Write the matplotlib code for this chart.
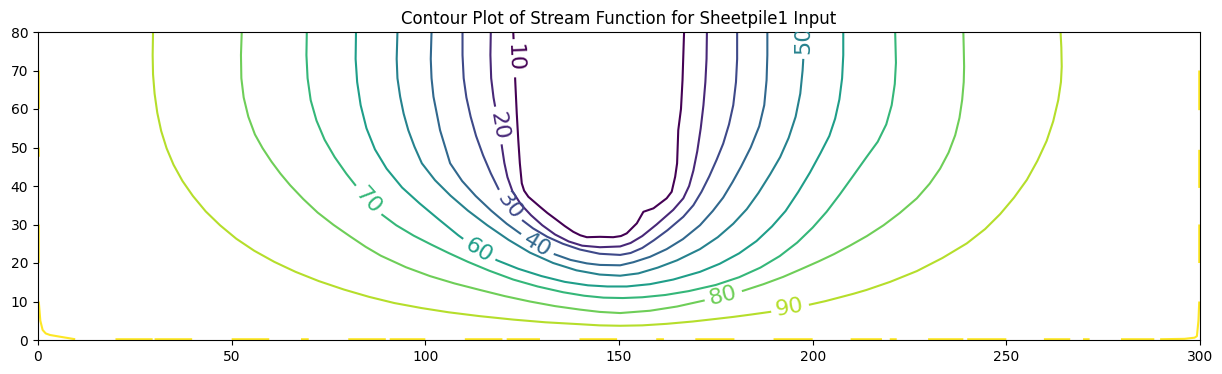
import numpy as np
import matplotlib
matplotlib.use("Agg")
import matplotlib.pyplot as plt
from matplotlib.contour import ContourSet

# ---------------- data ----------------
title = "Contour Plot of Stream Function for Sheetpile1 Input"
levels = [10, 20, 30, 40, 50, 60, 70, 80, 90, 100]
x_ticks = [0, 50, 100, 150, 200, 250, 300]
y_ticks = [0, 10, 20, 30, 40, 50, 60, 70, 80]

c10_x = [122.7, 123.0, 123.2, 123.6, 124.0, 124.4, 124.9, 125.5, 126.6, 129.6, 131.5, 133.9, 136.0,
         138.2, 140.0, 141.7, 145.1, 148.5, 150.5, 152.0, 154.6, 156.3, 158.9, 162.3, 163.6,
         164.5, 165.0, 165.3, 166.0, 166.4, 166.8]
c10_y = [80.0, 73.2, 67.5, 58.9, 51.9, 45.9, 40.7, 38.8, 37.2, 34.6, 33.0, 31.2, 29.6,
         28.1, 27.2, 26.7, 26.8, 26.7, 27.0, 27.7, 30.3, 33.3, 34.2, 36.8, 38.5,
         42.4, 45.9, 54.5, 60.0, 67.5, 80.0]

c20_x = [116.9, 116.8, 117.0, 117.6, 118.4, 119.2, 119.8, 120.4, 121.2, 122.5, 124.7, 127.3,
         130.2, 133.5, 137.0, 140.5, 145.1, 150.3, 153.0, 156.0, 159.7, 164.0, 166.6, 168.1,
         169.2, 170.2, 171.1, 171.8, 172.3, 172.6, 172.7]
c20_y = [80.0, 74.0, 68.0, 63.0, 58.5, 54.5, 50.0, 46.0, 42.3, 38.6, 35.2, 32.4,
         29.8, 27.4, 25.6, 24.5, 24.1, 24.3, 25.2, 27.0, 30.0, 33.8, 36.8, 40.0,
         44.0, 49.0, 55.0, 61.0, 67.0, 73.0, 80.0]

c30_x = [109.6, 109.6, 109.9, 110.6, 111.7, 113.1, 114.9, 116.9, 118.9, 121.4, 124.4, 127.8,
         131.5, 135.5, 139.9, 145.0, 150.3, 153.0, 156.0, 159.0, 162.5, 166.6, 169.2, 171.3,
         173.3, 175.2, 176.9, 178.4, 179.5, 180.2, 180.5, 180.5]
c30_y = [80.0, 74.0, 68.0, 63.0, 58.0, 53.0, 48.0, 43.3, 39.2, 35.1, 31.6, 29.0,
         26.8, 25.0, 23.5, 22.4, 22.1, 22.6, 23.9, 25.9, 28.5, 32.0, 35.0, 38.5,
         42.5, 46.8, 51.0, 56.0, 61.0, 67.0, 73.0, 80.0]

c40_x = [101.6, 101.4, 101.6, 102.1, 103.8, 106.4, 109.5, 113.0, 117.0, 121.0, 125.0, 128.8,
         133.0, 137.5, 141.7, 145.1, 150.3, 153.7, 158.0, 162.3, 166.5, 170.9, 174.2, 176.9,
         179.3, 181.5, 184.0, 186.2, 187.5, 188.1, 188.3, 188.3]
c40_y = [80.0, 73.0, 68.0, 63.2, 54.5, 45.9, 41.3, 37.4, 33.6, 30.2, 27.3, 24.7,
         22.4, 20.8, 19.9, 19.5, 19.4, 20.2, 21.6, 23.6, 26.2, 29.8, 33.5, 37.0,
         41.0, 45.0, 50.0, 55.5, 61.0, 67.5, 74.0, 80.0]

c50_x = [92.8, 92.6, 92.8, 93.5, 94.4, 95.6, 97.2, 99.1, 102.5, 106.5, 111.0, 116.0, 121.5,
         127.0, 133.0, 139.0, 145.0, 150.3, 155.0, 160.0, 165.0, 170.9, 175.5, 179.5, 183.0,
         186.0, 189.0, 191.6, 193.8, 195.6, 196.8, 197.4, 197.7, 197.7]
c50_y = [80.0, 73.0, 68.0, 63.2, 58.8, 54.5, 50.2, 45.9, 41.5, 37.5, 33.6, 29.8, 26.0,
         22.7, 20.0, 18.1, 17.0, 16.7, 17.3, 18.8, 20.7, 23.6, 26.7, 30.2, 34.0,
         38.2, 43.0, 47.5, 52.5, 58.0, 64.0, 70.0, 75.0, 80.0]

c60_x = [82.1, 82.0, 82.4, 83.3, 84.8, 87.0, 90.0, 94.0, 98.5, 103.5, 108.5, 113.7, 118.5,
         124.0, 130.0, 136.0, 142.0, 147.0, 152.0, 158.0, 164.0, 170.9, 176.0, 181.0, 185.5,
         189.5, 193.0, 196.3, 199.3, 202.0, 204.3, 205.8, 206.9, 207.6, 207.9, 207.9]
c60_y = [80.0, 73.0, 67.0, 61.0, 55.0, 49.5, 44.5, 39.6, 35.5, 31.3, 27.2, 23.4, 20.7,
         18.5, 16.6, 15.1, 14.2, 13.9, 13.9, 14.5, 15.7, 17.7, 19.8, 22.5, 25.7,
         29.5, 33.5, 38.5, 43.5, 48.5, 53.0, 57.5, 62.5, 68.0, 74.0, 80.0]

c70_x = [69.4, 69.3, 69.6, 70.4, 71.9, 74.0, 76.6, 79.6, 82.5, 85.3, 88.5, 92.5, 97.0,
         101.5, 106.0, 111.0, 116.5, 122.7, 129.0, 135.6, 141.0, 146.0, 151.0, 156.0, 162.0,
         168.0, 175.0, 181.0, 186.5, 191.5, 196.0, 200.0, 203.6, 207.0, 210.5, 213.9, 216.8,
         219.0, 220.4, 221.2, 221.5, 221.4, 221.3]
c70_y = [80.0, 74.0, 68.0, 62.3, 57.0, 52.0, 47.5, 43.2, 39.5, 36.2, 32.8, 29.8, 27.1,
         24.8, 22.6, 20.3, 18.0, 15.7, 13.9, 12.4, 11.5, 11.0, 10.9, 11.1, 11.7,
         12.7, 14.3, 16.3, 18.8, 21.8, 25.3, 29.2, 33.3, 37.8, 42.7, 47.5, 51.5,
         56.0, 61.0, 66.5, 72.0, 76.0, 80.0]

c80_x = [52.6, 52.4, 52.5, 53.1, 54.3, 56.0, 58.0, 60.3, 62.6, 65.1, 68.5, 72.2, 76.3,
         80.6, 84.6, 88.5, 95.0, 101.2, 107.5, 114.1, 120.5, 127.0, 133.5, 139.9, 145.0,
         150.3, 158.0, 165.0, 171.7, 176.9, 182.1, 187.3, 192.4, 197.0, 201.5, 205.5, 209.6,
         214.0, 218.3, 222.5, 226.9, 230.2, 232.9, 235.1, 236.8, 237.9, 238.6, 239.0, 239.1,
         239.0, 238.9]
c80_y = [80.0, 74.0, 68.0, 63.0, 58.0, 53.4, 49.8, 46.3, 43.2, 40.2, 36.6, 33.1, 29.9,
         26.9, 24.2, 21.9, 18.9, 16.6, 14.7, 13.0, 11.4, 10.0, 8.8, 7.9, 7.3,
         7.0, 7.6, 8.7, 10.2, 11.5, 12.8, 14.5, 16.4, 18.4, 20.4, 22.3, 24.5,
         27.0, 29.8, 33.0, 36.8, 40.6, 44.5, 48.7, 53.2, 57.7, 62.4, 67.0, 71.0,
         76.0, 80.0]

c90_x = [29.7, 29.6, 29.7, 30.1, 30.8, 31.8, 33.2, 35.0, 37.3, 40.0, 43.3, 47.0, 51.2,
         55.8, 61.0, 66.5, 72.5, 79.0, 85.5, 92.0, 99.0, 106.0, 114.0, 122.7, 131.0,
         139.9, 145.0, 150.3, 156.0, 162.3, 169.0, 175.2, 179.5, 184.0, 189.0, 194.1, 199.3,
         203.3, 207.1, 210.5, 213.9, 220.0, 226.9, 233.5, 239.8, 244.5, 248.4, 252.0, 255.3,
         258.0, 260.4, 262.1, 263.4, 264.1, 264.3, 264.2, 264.0]
c90_y = [80.0, 74.0, 69.0, 64.0, 59.0, 54.3, 49.8, 45.5, 41.3, 37.4, 33.4, 29.8, 26.3,
         23.2, 20.3, 17.7, 15.3, 13.1, 11.2, 9.6, 8.3, 7.2, 6.2, 5.3, 4.6,
         4.1, 3.8, 3.7, 3.8, 4.2, 4.8, 5.5, 6.0, 6.6, 7.3, 8.4, 9.2,
         10.1, 11.1, 12.0, 13.0, 15.1, 17.9, 21.3, 25.1, 28.8, 32.7, 37.0, 41.6,
         46.5, 51.7, 56.8, 62.3, 67.0, 71.0, 76.0, 80.0]

# level-100 pieces hugging the boundary
c100_left_corner_x = [9.6, 6.0, 3.1, 2.0, 1.2, 0.6, 0.2]
c100_left_corner_y = [0.2, 0.8, 1.3, 1.7, 2.6, 5.0, 10.0]
c100_right_corner_x = [289.7, 296.0, 298.6, 299.2, 299.6, 299.8]
c100_right_corner_y = [0.2, 0.3, 0.6, 1.0, 5.0, 10.0]
c100_left_spans = [(20.0, 30.0), (47.6, 50.0), (60.0, 70.0)]     # along the left edge
c100_right_spans = [(20.0, 30.0), (39.5, 49.4), (59.7, 70.0)]    # along the right edge
c100_bottom_spans = [(20.0, 29.6), (30.1, 39.8), (50.0, 59.7), (67.9, 69.9), (80.1, 89.8),
                     (90.8, 100.0), (110.2, 119.9), (121.0, 129.6), (139.8, 149.5),
                     (159.6, 161.6), (169.7, 179.8), (189.9, 200.0), (209.8, 217.9),
                     (219.9, 221.7), (229.8, 238.9), (239.9, 250.0), (259.7, 266.5),
                     (269.8, 271.5), (279.6, 288.2)]                # along the bottom edge

# ---------------- layout / style ----------------
label_at = [(123.6, 73.2), (119.3, 55.8), (121.4, 34.6), (128.8, 24.7), (197.7, 78.0),
            (113.7, 23.2), (85.3, 36.3), (176.9, 11.6), (194.1, 8.6)]
edge_inset = 0.2
x_left, x_right, y_bot, y_top = 0.0, 300.0, 0.0, 80.0

fig = plt.figure(figsize=(12.22, 3.74), dpi=100)
ax = fig.add_axes([38 / 1222, 34 / 374, 1162 / 1222, 308 / 374])

main_lines = [(c10_x, c10_y), (c20_x, c20_y), (c30_x, c30_y), (c40_x, c40_y), (c50_x, c50_y),
              (c60_x, c60_y), (c70_x, c70_y), (c80_x, c80_y), (c90_x, c90_y)]
allsegs = [[np.column_stack([xs, ys])] for xs, ys in main_lines]

segs100 = [np.column_stack([c100_left_corner_x, c100_left_corner_y]),
           np.column_stack([c100_right_corner_x, c100_right_corner_y])]
for a, b in c100_left_spans:
    segs100.append(np.array([[x_left + edge_inset, a], [x_left + edge_inset, b]]))
for a, b in c100_right_spans:
    segs100.append(np.array([[x_right - edge_inset, a], [x_right - edge_inset, b]]))
for a, b in c100_bottom_spans:
    segs100.append(np.array([[a, y_bot + edge_inset], [b, y_bot + edge_inset]]))
allsegs.append(segs100)

cs = ContourSet(ax, levels, allsegs, cmap="viridis", linewidths=1.5)
ax.clabel(cs, levels=levels[:-1], manual=label_at, inline=True, fontsize=16, fmt="%d")

ax.set_xlim(x_left, x_right)
ax.set_ylim(y_bot, y_top)
ax.set_xticks(x_ticks)
ax.set_yticks(y_ticks)
ax.set_title(title, fontsize=12)

fig.savefig("out.png", dpi=100)
